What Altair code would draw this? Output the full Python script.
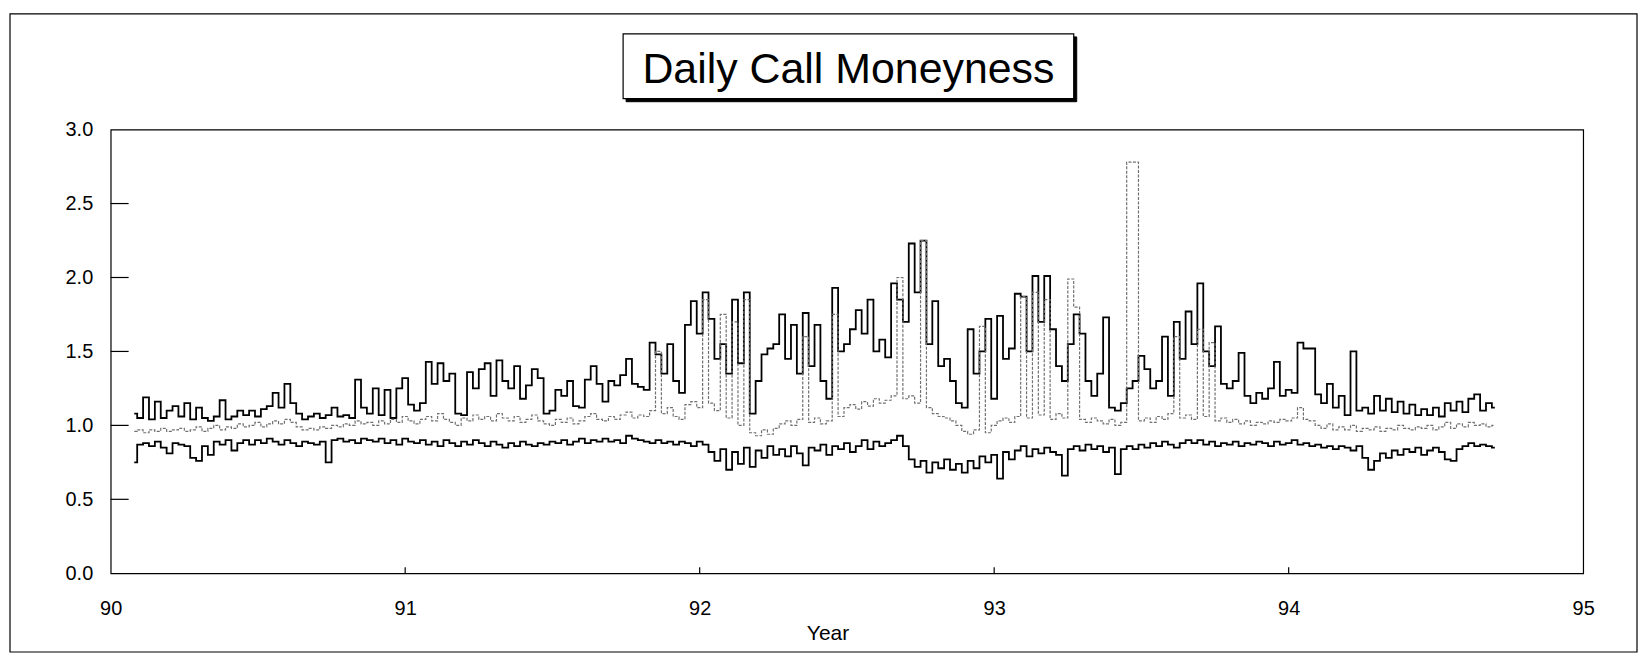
import altair as alt
import pandas as pd

TITLE = "Daily Call Moneyness"
X_TITLE = "Year"
X_TICKS = [90, 91, 92, 93, 94, 95]
Y_TICKS = [0.0, 0.5, 1.0, 1.5, 2.0, 2.5, 3.0]
INNER_Y_TICKS = [0.5, 1.0, 1.5, 2.0, 2.5]
INNER_X_TICKS = [91, 92, 93, 94]

START = 90.08
STEP = 0.02

upper = [
    1.08, 1.05, 1.19, 1.04, 1.16, 1.05, 1.10, 1.13, 1.06, 1.15,
    1.04, 1.12, 1.05, 1.03, 1.06, 1.17, 1.04, 1.06, 1.10, 1.07,
    1.10, 1.06, 1.11, 1.13, 1.22, 1.12, 1.28, 1.15, 1.08, 1.04,
    1.06, 1.08, 1.05, 1.07, 1.12, 1.06, 1.07, 1.05, 1.31, 1.12,
    1.08, 1.25, 1.07, 1.24, 1.05, 1.25, 1.32, 1.14, 1.10, 1.15,
    1.43, 1.28, 1.42, 1.30, 1.35, 1.08, 1.07, 1.36, 1.25, 1.38,
    1.42, 1.20, 1.44, 1.30, 1.25, 1.40, 1.18, 1.27, 1.38, 1.32,
    1.08, 1.10, 1.24, 1.20, 1.30, 1.13, 1.12, 1.31, 1.40, 1.28,
    1.16, 1.30, 1.27, 1.34, 1.45, 1.28, 1.26, 1.24, 1.56, 1.48,
    1.35, 1.55, 1.30, 1.22, 1.68, 1.84, 1.62, 1.90, 1.72, 1.45,
    1.55, 1.35, 1.85, 1.42, 1.90, 1.08, 1.30, 1.48, 1.52, 1.55,
    1.75, 1.45, 1.68, 1.35, 1.76, 1.40, 1.68, 1.30, 1.18, 1.93,
    1.50, 1.55, 1.65, 1.78, 1.62, 1.85, 1.50, 1.58, 1.46, 1.96,
    1.85, 1.70, 2.23, 1.90, 2.25, 1.55, 1.84, 1.40, 1.45, 1.30,
    1.15, 1.12, 1.65, 1.35, 1.50, 1.72, 1.18, 1.74, 1.45, 1.52,
    1.89, 1.87, 1.50, 2.01, 1.70, 2.01, 1.65, 1.40, 1.30, 1.55,
    1.75, 1.62, 1.30, 1.20, 1.35, 1.73, 1.12, 1.10, 1.15, 1.25,
    1.30, 1.47, 1.38, 1.25, 1.30, 1.60, 1.20, 1.70, 1.45, 1.77,
    1.55, 1.96, 1.50, 1.40, 1.67, 1.28, 1.25, 1.30, 1.49, 1.20,
    1.15, 1.22, 1.18, 1.25, 1.43, 1.20, 1.24, 1.22, 1.56, 1.52,
    1.52, 1.21, 1.15, 1.28, 1.12, 1.20, 1.07, 1.50, 1.10, 1.12,
    1.08, 1.20, 1.10, 1.18, 1.09, 1.16, 1.08, 1.14, 1.07, 1.11,
    1.07, 1.12, 1.06, 1.15, 1.10, 1.16, 1.09, 1.18, 1.21, 1.10,
    1.15, 1.12,
]

middle = [
    0.96, 0.97, 0.95, 0.97, 0.96, 0.98, 0.96, 0.97, 0.98, 0.96,
    0.97, 0.99, 0.96, 0.98, 1.00, 0.97, 0.99, 0.98, 1.01, 0.99,
    1.00, 1.02, 0.99, 1.01, 1.03, 1.01, 1.04, 1.02, 0.99, 0.97,
    0.98, 0.97, 0.99, 0.98, 1.00, 0.99, 1.01, 1.00, 1.03, 1.01,
    1.02, 1.00, 1.03, 1.01, 1.04, 1.02, 1.06, 1.03, 1.01, 1.04,
    1.06, 1.03, 1.08, 1.04, 1.02, 1.00, 1.05, 1.03, 1.07, 1.04,
    1.06, 1.03, 1.08, 1.05, 1.03, 1.06, 1.02, 1.04, 1.07, 1.03,
    1.01, 1.00, 1.04, 1.02, 1.05, 1.01, 1.03, 1.06, 1.08, 1.04,
    1.03, 1.06, 1.04, 1.07, 1.09, 1.05, 1.07, 1.06, 1.10, 1.50,
    1.08, 1.12, 1.06, 1.04, 1.14, 1.16, 1.12, 1.85, 1.15, 1.10,
    1.75, 1.05, 1.70, 1.00, 1.85, 0.95, 0.93, 0.97, 0.94, 0.98,
    1.01, 1.03, 1.00, 1.04, 1.60, 1.02, 1.05, 1.01, 1.03, 1.75,
    1.06, 1.12, 1.14, 1.11, 1.16, 1.13, 1.18, 1.15, 1.17, 1.20,
    2.00, 1.18, 1.20, 1.15, 2.25, 1.12, 1.08, 1.06, 1.05, 1.03,
    1.00, 0.96, 0.94, 0.97, 1.67, 0.95, 1.00, 1.03, 1.05, 1.02,
    1.06, 1.87, 1.05, 1.90, 1.07, 1.85, 1.04, 1.08, 1.05, 1.99,
    1.80, 1.04, 1.02, 1.05, 1.03, 1.01, 1.04, 1.00, 1.02, 2.78,
    2.78, 1.03, 1.05, 1.02, 1.06, 1.04, 1.08, 1.60, 1.05, 1.07,
    1.04, 1.65, 1.06, 1.56, 1.03, 1.05, 1.02, 1.04, 1.01, 1.03,
    1.00, 1.02, 1.01, 1.03, 1.02, 1.04, 1.03, 1.05, 1.12, 1.04,
    1.03, 1.00, 0.98, 1.01, 0.97, 0.99, 0.97, 1.00, 0.96, 0.98,
    0.97, 0.99, 0.96, 0.98, 0.97, 1.00, 0.98, 0.97, 0.99, 0.98,
    1.00, 0.97, 0.99, 1.02, 0.98, 1.01, 0.99, 1.02, 1.00, 1.01,
    0.99, 1.00,
]

lower = [
    0.75, 0.87, 0.88, 0.86, 0.89, 0.85, 0.81, 0.88, 0.87, 0.86,
    0.78, 0.76, 0.86, 0.80, 0.89, 0.87, 0.90, 0.83, 0.88, 0.90,
    0.87, 0.90, 0.88, 0.91, 0.89, 0.87, 0.90, 0.88, 0.86, 0.89,
    0.88, 0.87, 0.89, 0.75, 0.90, 0.91, 0.89, 0.90, 0.88, 0.91,
    0.90, 0.89, 0.91, 0.88, 0.90, 0.87, 0.91, 0.89, 0.88, 0.90,
    0.87, 0.89, 0.86, 0.90, 0.88, 0.86, 0.89, 0.87, 0.90, 0.88,
    0.86, 0.89, 0.87, 0.85, 0.88, 0.86, 0.89, 0.87, 0.86, 0.88,
    0.87, 0.89, 0.88, 0.90, 0.87, 0.89, 0.91, 0.88, 0.90, 0.89,
    0.91, 0.89, 0.90, 0.88, 0.93, 0.91, 0.90, 0.89, 0.88, 0.90,
    0.88, 0.89, 0.87, 0.89, 0.88, 0.86, 0.89, 0.87, 0.82, 0.76,
    0.84, 0.70, 0.82, 0.74, 0.85, 0.72, 0.83, 0.78, 0.86, 0.80,
    0.84, 0.79, 0.86, 0.81, 0.73, 0.85, 0.83, 0.87, 0.80, 0.86,
    0.84, 0.88, 0.82, 0.86, 0.90, 0.84, 0.89, 0.86, 0.88, 0.90,
    0.93, 0.86, 0.77, 0.72, 0.76, 0.68, 0.75, 0.71, 0.77, 0.70,
    0.74, 0.68, 0.76, 0.71, 0.79, 0.75, 0.80, 0.64, 0.82, 0.77,
    0.83, 0.86, 0.79, 0.84, 0.81, 0.85, 0.82, 0.80, 0.66, 0.84,
    0.86, 0.83, 0.87, 0.84, 0.86, 0.82, 0.85, 0.67, 0.84, 0.86,
    0.84, 0.87, 0.85, 0.88, 0.86, 0.89, 0.87, 0.85, 0.88, 0.90,
    0.88, 0.90, 0.87, 0.89, 0.86, 0.88, 0.87, 0.89, 0.86, 0.88,
    0.87, 0.89, 0.88, 0.86, 0.89, 0.87, 0.88, 0.90, 0.87, 0.88,
    0.86, 0.87, 0.85, 0.86, 0.84, 0.86, 0.85, 0.83, 0.86, 0.78,
    0.70, 0.76, 0.81, 0.78, 0.83, 0.80, 0.84, 0.82, 0.85, 0.80,
    0.83, 0.85, 0.82, 0.77, 0.76, 0.84, 0.86, 0.88, 0.86, 0.87,
    0.86, 0.85,
]

years = [round(START + STEP * i, 2) for i in range(len(upper))]

rows = []
for name, vals in (("upper", upper), ("middle", middle), ("lower", lower)):
    for yr, v in zip(years, vals):
        rows.append({"year": yr, "value": v, "series": name})
df = pd.DataFrame(rows)

W, H = 1477, 445
FONT = "Liberation Sans"

xscale = alt.Scale(domain=[90, 95], nice=False, zero=False)
yscale = alt.Scale(domain=[0, 3], nice=False, zero=False)

x_axis = alt.Axis(values=X_TICKS, format="d", title=X_TITLE, ticks=False, domain=False,
                  grid=False, labelFontSize=20, labelFont=FONT, labelColor="black",
                  labelPadding=25, titleFontSize=21, titleFont=FONT, titleColor="black",
                  titleFontWeight="normal", titlePadding=4, titleX=719, labelFlush=False)
y_axis = alt.Axis(values=Y_TICKS, format=".1f", title=None, ticks=False, domain=False,
                  grid=False, labelFontSize=20, labelFont=FONT, labelColor="black",
                  labelPadding=18, labelFlush=False)

black_lines = alt.Chart(df).transform_filter(
    alt.datum.series != "middle"
).mark_line(color="black", strokeWidth=1.8, interpolate="step").encode(
    x=alt.X("year:Q", scale=xscale, axis=x_axis),
    y=alt.Y("value:Q", scale=yscale, axis=y_axis),
    detail="series:N",
    order="year:Q",
)

gray_line = alt.Chart(df).transform_filter(
    alt.datum.series == "middle"
).mark_line(color="#707070", strokeWidth=1.2, interpolate="step", strokeDash=[3, 1.5]).encode(
    x=alt.X("year:Q", scale=xscale, axis=x_axis),
    y=alt.Y("value:Q", scale=yscale, axis=y_axis),
    order="year:Q",
)

ytick_df = pd.DataFrame({"year": [90.0] * len(INNER_Y_TICKS), "value": INNER_Y_TICKS})
ytick_rules = alt.Chart(ytick_df).mark_rule(color="black", strokeWidth=1.2).encode(
    y=alt.Y("value:Q", scale=yscale, axis=y_axis),
    x=alt.value(0),
    x2=alt.value(18),
)

xtick_df = pd.DataFrame({"year": INNER_X_TICKS})
xtick_rules = alt.Chart(xtick_df).mark_rule(color="black", strokeWidth=1.2).encode(
    x=alt.X("year:Q", scale=xscale, axis=x_axis),
    y=alt.value(H),
    y2=alt.value(H - 6),
)

one = pd.DataFrame({"t": [TITLE]})
outer_frame = alt.Chart(one).mark_rect(fill=None, stroke="black", strokeWidth=1.2).encode(
    x=alt.value(-101), x2=alt.value(1531), y=alt.value(-116), y2=alt.value(524)
)
title_shadow = alt.Chart(one).mark_rect(fill="black", stroke="black").encode(
    x=alt.value(517), x2=alt.value(969), y=alt.value(-93), y2=alt.value(-28)
)
title_box = alt.Chart(one).mark_rect(fill="white", stroke="black", strokeWidth=1.2).encode(
    x=alt.value(514), x2=alt.value(966), y=alt.value(-96), y2=alt.value(-31)
)
title_text = alt.Chart(one).mark_text(
    font=FONT, fontSize=43, color="black", align="center", baseline="alphabetic"
).encode(x=alt.value(740), y=alt.value(-47), text="t:N")

chart = alt.layer(
    black_lines, gray_line, ytick_rules, xtick_rules,
    outer_frame, title_shadow, title_box, title_text,
).properties(
    width=W, height=H,
    padding={"left": 103, "top": 121, "right": 55, "bottom": 80},
    autosize=alt.AutoSizeParams(type="none"),
    background="white",
).configure_view(
    stroke="black", strokeWidth=1.2
)

chart.save("out.html", embed_options={"renderer": "svg", "actions": False})
